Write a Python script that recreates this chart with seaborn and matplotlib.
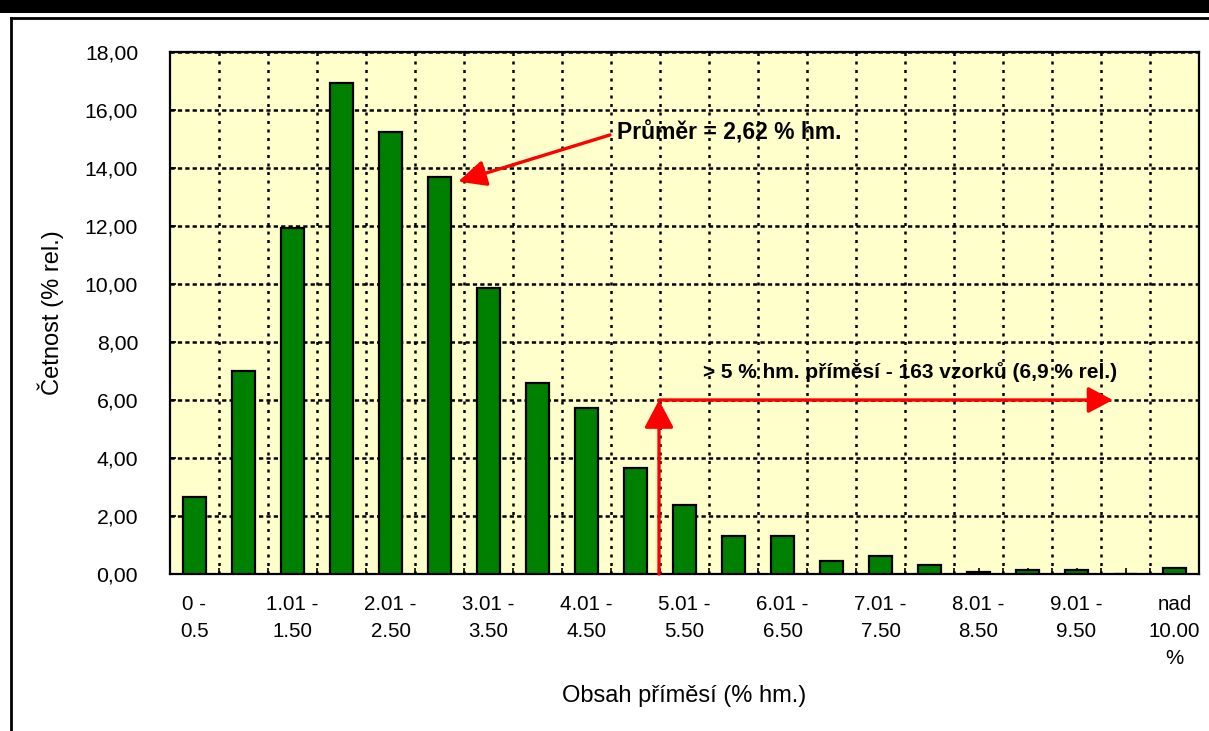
import matplotlib
matplotlib.use("Agg")
import matplotlib.pyplot as plt
import seaborn as sns
import pandas as pd
from matplotlib.lines import Line2D
from matplotlib.patches import Rectangle

# Intervals of admixture content (% wt.) and relative frequency of samples
categories = [
    "0 -\n0.5", "0.51 -\n1.00", "1.01 -\n1.50", "1.51 -\n2.00", "2.01 -\n2.50",
    "2.51 -\n3.00", "3.01 -\n3.50", "3.51 -\n4.00", "4.01 -\n4.50", "4.51 -\n5.00",
    "5.01 -\n5.50", "5.51 -\n6.00", "6.01 -\n6.50", "6.51 -\n7.00", "7.01 -\n7.50",
    "7.51 -\n8.00", "8.01 -\n8.50", "8.51 -\n9.00", "9.01 -\n9.50", "9.51 -\n10.00",
    "nad\n10.00\n%",
]
frequency = [2.66, 7.01, 11.93, 16.94, 15.25, 13.69, 9.86, 6.59, 5.72, 3.64,
             2.37, 1.31, 1.31, 0.45, 0.63, 0.32, 0.08, 0.14, 0.14, 0.00, 0.20]
y_ticks = [0, 2, 4, 6, 8, 10, 12, 14, 16, 18]
y_tick_labels = ["0,00", "2,00", "4,00", "6,00", "8,00", "10,00", "12,00",
                 "14,00", "16,00", "18,00"]

mean_label = "Průměr = 2,62 % hm."
over5_label = "> 5 % hm. příměsí - 163 vzorků (6,9 % rel.)"
over5_level = 6.0

W, H = 1209, 731
fig = plt.figure(figsize=(W / 100, H / 100), dpi=100)
fig.patch.set_facecolor("white")

# dark header strip and the outer frame of the sheet
fig.patches.append(Rectangle((0, 1 - 13 / H), 1, 13 / H, transform=fig.transFigure,
                             facecolor="black", edgecolor="none", zorder=0))
fig.lines.append(Line2D([11 / W, 1.01], [1 - 17.5 / H, 1 - 17.5 / H], transform=fig.transFigure,
                        color="black", lw=2))
fig.lines.append(Line2D([11 / W, 11 / W], [-0.01, 1 - 17.5 / H], transform=fig.transFigure,
                        color="black", lw=2))

ax = fig.add_axes([170 / W, 1 - 574 / H, 1029 / W, 522 / H])
plt.rcParams["font.family"] = ["Liberation Sans", "DejaVu Sans"]

df = pd.DataFrame({"interval": categories, "cetnost": frequency})
sns.barplot(data=df, x="interval", y="cetnost", order=categories, color="#008000",
            saturation=1, width=0.45, edgecolor="black", linewidth=1.6, ax=ax, zorder=3)

ax.set_facecolor("#FFFFCC")
ax.set_xlim(-0.5, len(categories) - 0.5)
ax.set_ylim(0, 18)
ax.set_axisbelow(True)

font = "Liberation Sans"
ax.set_xticks(range(len(categories)))
ax.set_xticklabels([c if i % 2 == 0 else "" for i, c in enumerate(categories)],
                   fontsize=14.8, family=font, linespacing=1.55, ha="center", va="top")
ax.set_xticks([i + 0.5 for i in range(len(categories) - 1)], minor=True)
ax.set_yticks(y_ticks)
ax.set_yticklabels(y_tick_labels, fontsize=15.3, family=font)
ax.tick_params(axis="x", which="both", direction="in", length=4, width=1.2, pad=15)
ax.tick_params(axis="y", which="both", direction="in", length=4, width=1.2, pad=23)

ax.grid(which="major", axis="y", color="black", lw=1.8, linestyle=(0, (1.7, 1.25)))
ax.grid(which="minor", axis="x", color="black", lw=1.8, linestyle=(0, (1.2, 2.2)))
ax.grid(which="major", axis="x", visible=False)
for side in ax.spines.values():
    side.set_color("black")
    side.set_linewidth(1.6)

ax.set_xlabel("Obsah příměsí (% hm.)", fontsize=17, family=font, va="top")
ax.xaxis.set_label_coords(0.5, -0.212)
ax.set_ylabel("Četnost (% rel.)", fontsize=17, family=font)
ax.yaxis.set_label_coords(-0.103, 0.5)

# mean annotation
ax.annotate("", xy=(5.38, 13.53), xytext=(8.48, 15.14),
            arrowprops=dict(arrowstyle="-|>,head_length=1.7,head_width=0.8", mutation_scale=10,
                            color="#FF0000", lw=2.4, shrinkA=0, shrinkB=0), zorder=5)
ax.text(8.62, 15.2, mean_label, fontsize=16.5, fontweight="bold", family=font,
        ha="left", va="center", zorder=6)

# share of samples above 5 % wt.
ax.annotate("", xy=(9.48, over5_level), xytext=(9.48, 0),
            arrowprops=dict(arrowstyle="-|>,head_length=1.7,head_width=0.9", mutation_scale=10,
                            color="#FF0000", lw=2.4, shrinkA=0, shrinkB=0), zorder=5)
ax.annotate("", xy=(18.74, over5_level), xytext=(9.48, over5_level),
            arrowprops=dict(arrowstyle="-|>,head_length=1.5,head_width=0.8", mutation_scale=10,
                            color="#FF0000", lw=2.4, shrinkA=0, shrinkB=0), zorder=5)
ax.text(10.38, 6.97, over5_label, fontsize=15, fontweight="bold", family=font,
        ha="left", va="center", zorder=6)

fig.savefig("out.png", dpi=100, facecolor="white")
